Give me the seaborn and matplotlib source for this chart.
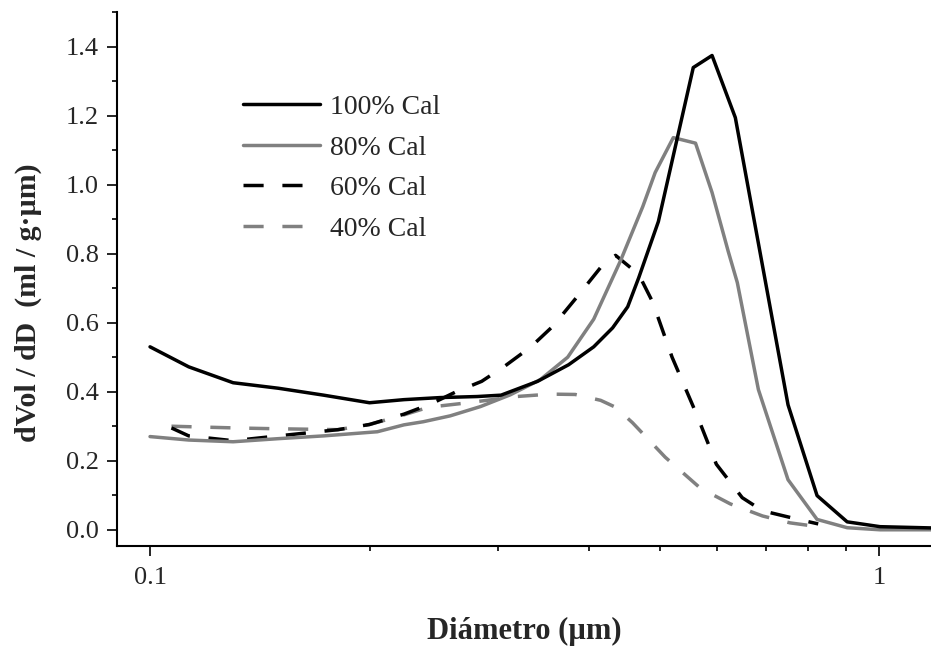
"""
Distribución de tamaño de poro: dVol/dD vs diámetro para distintas calcinaciones.
Output: out.png
"""
import matplotlib
matplotlib.use("Agg")

import matplotlib.pyplot as plt
import matplotlib.ticker as mticker
import numpy as np
import pandas as pd
import seaborn as sns

sns.set_theme(style="ticks")
plt.rcParams["font.family"] = ["Liberation Serif", "DejaVu Serif"]

# ── Data ──────────────────────────────────────────────────────────────────────
LABELS = ["100% Cal", "80% Cal", "60% Cal", "40% Cal"]
COLORS = ["#000000", "#808080", "#000000", "#808080"]
DASHED = [False, False, True, True]

x_100 = [0.100, 0.113, 0.130, 0.150, 0.173, 0.200, 0.223, 0.250, 0.281, 0.303,
         0.340, 0.375, 0.406, 0.431, 0.452, 0.468, 0.498, 0.556, 0.590, 0.635,
         0.750, 0.822, 0.904, 1.003, 1.200]
y_100 = [0.530, 0.472, 0.426, 0.410, 0.390, 0.368, 0.377, 0.383, 0.386, 0.390,
         0.430, 0.478, 0.530, 0.585, 0.646, 0.730, 0.893, 1.339, 1.374, 1.194,
         0.362, 0.099, 0.023, 0.009, 0.005]

x_80 = [0.100, 0.113, 0.130, 0.150, 0.173, 0.205, 0.223, 0.237, 0.258, 0.284,
        0.312, 0.343, 0.374, 0.406, 0.442, 0.474, 0.493, 0.522, 0.560, 0.590,
        0.621, 0.639, 0.683, 0.750, 0.822, 0.904, 1.003, 1.200]
y_80 = [0.270, 0.260, 0.255, 0.264, 0.272, 0.284, 0.304, 0.313, 0.330, 0.357,
        0.391, 0.435, 0.500, 0.610, 0.780, 0.936, 1.035, 1.136, 1.120, 0.977,
        0.806, 0.716, 0.406, 0.145, 0.030, 0.006, 0.000, 0.000]

x_60 = [0.107, 0.113, 0.130, 0.150, 0.181, 0.200, 0.223, 0.243, 0.263, 0.285,
        0.307, 0.333, 0.357, 0.387, 0.415, 0.435, 0.468, 0.489, 0.520, 0.563,
        0.598, 0.649, 0.692, 0.775, 0.825]
y_60 = [0.295, 0.272, 0.258, 0.272, 0.290, 0.305, 0.335, 0.365, 0.400, 0.430,
        0.475, 0.530, 0.590, 0.680, 0.760, 0.795, 0.740, 0.660, 0.500, 0.330,
        0.190, 0.093, 0.055, 0.030, 0.017]

x_40 = [0.107, 0.131, 0.146, 0.181, 0.200, 0.223, 0.241, 0.273, 0.318, 0.354,
        0.383, 0.415, 0.435, 0.459, 0.509, 0.569, 0.625, 0.692, 0.755, 0.825]
y_40 = [0.300, 0.295, 0.293, 0.290, 0.305, 0.333, 0.355, 0.368, 0.386, 0.393,
        0.392, 0.375, 0.355, 0.310, 0.210, 0.120, 0.075, 0.040, 0.020, 0.009]

XS = [x_100, x_80, x_60, x_40]
YS = [y_100, y_80, y_60, y_40]

df = pd.concat(
    [pd.DataFrame({"D": x, "dV": y, "serie": lbl}) for x, y, lbl in zip(XS, YS, LABELS)],
    ignore_index=True,
)

# ── Plot ─────────────────────────────────────────────────────────────────────
fig = plt.figure(figsize=(9.31, 6.55), dpi=100)
ax = fig.add_axes([0.1257, 0.1664, 0.8743, 0.8153])

# draw 40% first so the solid curves stay on top
handles = {}
for lbl, color, dashed in list(zip(LABELS, COLORS, DASHED))[::-1]:
    sub = df[df["serie"] == lbl]
    kws = {"dashes": (5.8, 5.4)} if dashed else {}
    sns.lineplot(data=sub, x="D", y="dV", color=color, lw=2.5, estimator=None,
                 sort=False, ax=ax, label=lbl, **kws)
    handles[lbl] = ax.get_lines()[-1]

ax.set_xscale("log")
ax.set_xlim(0.0901, 1.178)
ax.set_ylim(-0.047, 1.5)

ax.xaxis.set_major_locator(mticker.FixedLocator([0.1, 1]))
ax.xaxis.set_major_formatter(mticker.FuncFormatter(lambda v, _: f"{v:g}"))
ax.xaxis.set_minor_locator(mticker.LogLocator(base=10, subs=np.arange(2, 10)))
ax.xaxis.set_minor_formatter(mticker.NullFormatter())
ax.yaxis.set_major_locator(mticker.MultipleLocator(0.2))
ax.yaxis.set_minor_locator(mticker.MultipleLocator(0.1))
ax.yaxis.set_major_formatter(mticker.FormatStrFormatter("%.1f"))

ax.tick_params(which="major", length=7, width=1.2, labelsize=19, color="black")
ax.tick_params(which="minor", length=3.6, width=1.2, color="black")
ax.tick_params(axis="x", which="major", pad=8)
ax.tick_params(axis="y", which="major", pad=6)
for side in ["top", "right"]:
    ax.spines[side].set_visible(False)
for side in ["left", "bottom"]:
    ax.spines[side].set_linewidth(1.5)
    ax.spines[side].set_color("black")

ax.set_xlabel("Diámetro (µm)", fontsize=22, fontweight="bold", labelpad=20)
ax.set_ylabel("dVol / dD  (ml / g·µm)", fontsize=21.5, fontweight="bold")
ax.yaxis.set_label_coords(-0.092, 0.455)

ax.legend([handles[l] for l in LABELS], LABELS, loc="upper left",
          bbox_to_anchor=(0.155, 0.845), frameon=False, fontsize=20,
          handlelength=2.77, handletextpad=0.36, labelspacing=0.54,
          borderpad=0, borderaxespad=0)

fig.savefig("out.png", dpi=100)
plt.close(fig)
print("Saved → out.png")
